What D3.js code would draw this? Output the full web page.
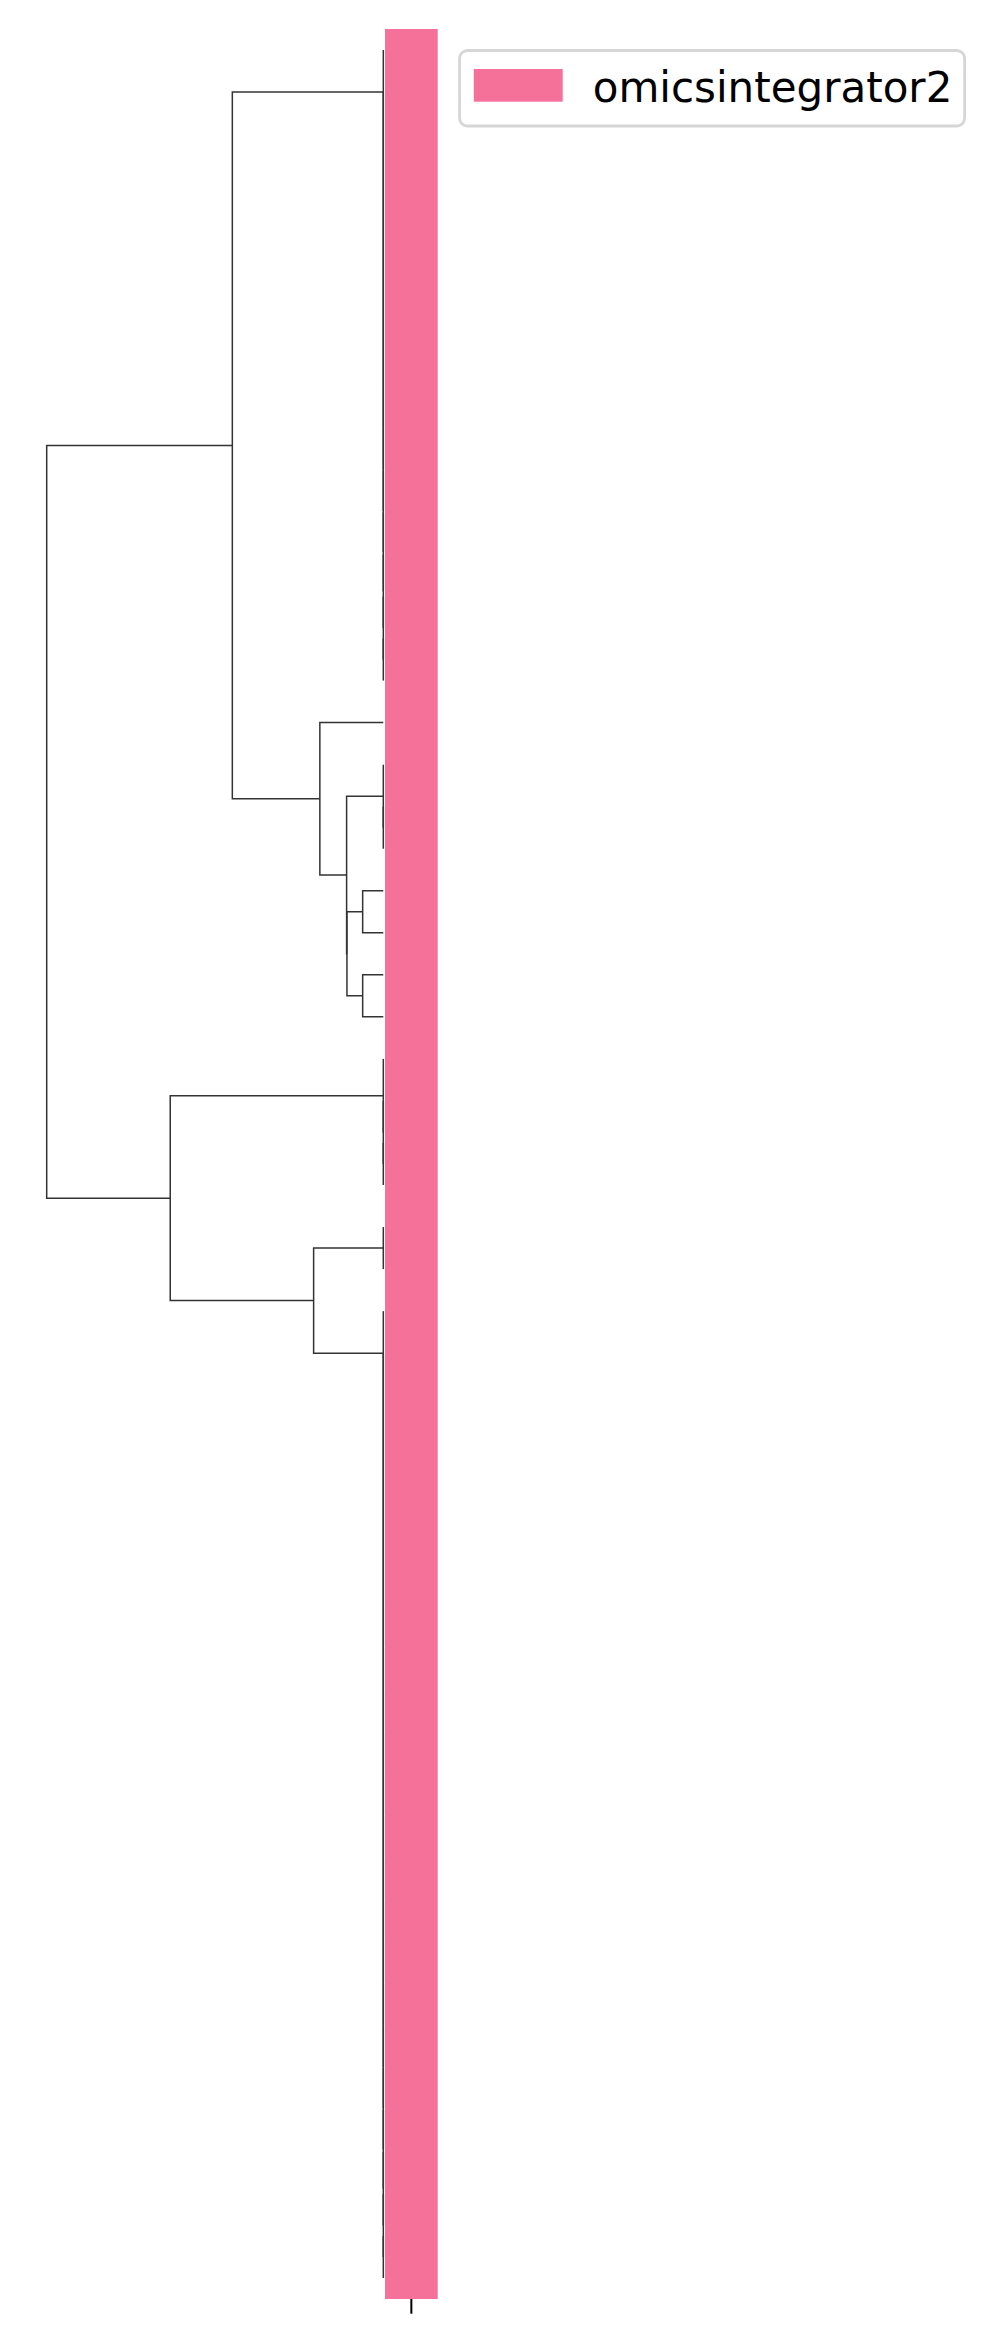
<!DOCTYPE html>
<html>
<head>
<meta charset="utf-8">
<script src="https://cdn.jsdelivr.net/npm/d3@7"></script>
<style>
  html, body { margin: 0; padding: 0; background: #ffffff; }
  svg { display: block; }
</style>
</head>
<body>
<svg id="chart" width="995" height="2329"></svg>
<script>
// ---------------- data ----------------
const nLeaves = 54;
// scipy-style linkage rows: [childA, childB, height]; ids >= nLeaves are merged clusters
const linkLeft = [14,13,12,11,10,9,8,7,6,5,4,3,2,1,0,
                  18,17,
                  26,25,24,
                  28,
                  52,51,50,49,48,47,46,45,44,43,42,41,40,39,38,37,36,35,34,33,32,31,30,
                  20,22,98,70,16,68,74,73,103];
const linkRight = [15,54,55,56,57,58,59,60,61,62,63,64,65,66,67,
                   19,69,
                   27,71,72,
                   29,
                   53,75,76,77,78,79,80,81,82,83,84,85,86,87,88,89,90,91,92,93,94,95,96,
                   21,23,99,100,101,102,97,104,105];
const linkHeight = [0,0,0,0,0,0,0,0,0,0,0,0,0,0,0,
                    0,0,
                    0,0,0,
                    0,
                    0,0,0,0,0,0,0,0,0,0,0,0,0,0,0,0,0,0,0,0,0,0,0,
                    0.0613,0.0613,0.108,0.109,0.1885,0.4485,0.207,0.633,1.0];
const columnNames = ["omicsintegrator2"];
const columnValues = [1];
const tickLabels = [""];
const legendLabels = ["omicsintegrator2"];

// ---------------- layout ----------------
const svg = d3.select("#chart");
svg.append("rect").attr("width", 995).attr("height", 2329).attr("fill", "#ffffff");

const barColor = "#f67199";
const lineColor = "#333333";

// leaf order via traversal (left child on top)
const nodeChildren = {};
linkLeft.forEach((a, i) => { nodeChildren[nLeaves + i] = [a, linkRight[i]]; });
const rootId = nLeaves + linkLeft.length - 1;
const leafOrder = [];
(function walk(id) {
  if (id < nLeaves) { leafOrder.push(id); return; }
  nodeChildren[id].forEach(walk);
})(rootId);

const yBand = d3.scaleBand().domain(leafOrder).range([29, 2299]).padding(0);
const xDist = d3.scaleLinear().domain([0, 1.0]).range([383.3, 46.7]);

const nodeY = {}, nodeH = {};
leafOrder.forEach(id => { nodeY[id] = yBand(id) + yBand.bandwidth() / 2; nodeH[id] = 0; });
linkLeft.forEach((a, i) => {
  const id = nLeaves + i, b = linkRight[i];
  nodeY[id] = (nodeY[a] + nodeY[b]) / 2;
  nodeH[id] = linkHeight[i];
});

const dendro = svg.append("g").attr("fill", "none").attr("stroke", lineColor)
  .attr("stroke-width", 1.5).attr("stroke-linejoin", "miter").attr("stroke-linecap", "butt");
linkLeft.forEach((a, i) => {
  const b = linkRight[i], h = linkHeight[i];
  const p = d3.path();
  p.moveTo(xDist(nodeH[a]), nodeY[a]);
  p.lineTo(xDist(h), nodeY[a]);
  p.lineTo(xDist(h), nodeY[b]);
  p.lineTo(xDist(nodeH[b]), nodeY[b]);
  dendro.append("path").attr("d", p.toString());
});

// colour column (heatmap with one column)
const xCol = d3.scaleBand().domain(columnNames).range([385, 437.7]);
svg.append("g").selectAll("rect").data(columnNames).join("rect")
  .attr("x", d => xCol(d)).attr("width", xCol.bandwidth())
  .attr("y", 29).attr("height", 2299 - 29)
  .attr("fill", barColor);

// bottom axis with single unlabeled tick
const xAxis = d3.axisBottom(xCol).tickSize(14.7).tickFormat((d, i) => tickLabels[i]);
const axG = svg.append("g").attr("transform", "translate(0,2299)").call(xAxis);
axG.select(".domain").remove();
axG.selectAll(".tick line").attr("stroke", "#000").attr("stroke-width", 2);

// legend
const lg = svg.append("g");
lg.append("rect").attr("x", 459.6).attr("y", 50.5).attr("width", 505).attr("height", 75.5)
  .attr("rx", 8).attr("ry", 8).attr("fill", "#ffffff").attr("stroke", "#d6d6d6").attr("stroke-width", 2.8);
lg.selectAll("rect.sw").data(legendLabels).join("rect").attr("class", "sw")
  .attr("x", 473.8).attr("y", 69).attr("width", 88.9).attr("height", 32.7).attr("fill", barColor);
lg.selectAll("text").data(legendLabels).join("text")
  .attr("x", 592.7).attr("y", 101.5)
  .attr("font-family", "DejaVu Sans").attr("font-size", 42).attr("fill", "#000")
  .text(d => d);
</script>
</body>
</html>
